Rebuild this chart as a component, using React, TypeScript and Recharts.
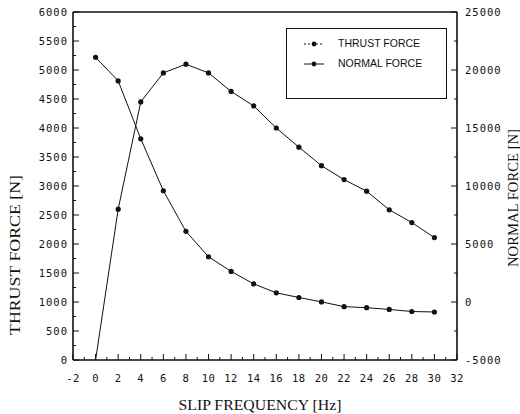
import React from "react";
import { LineChart, Line, XAxis, YAxis, ReferenceLine, Legend } from "recharts";

const freq = [0, 2, 4, 6, 8, 10, 12, 14, 16, 18, 20, 22, 24, 26, 28, 30];
const thrust = [0, 2600, 4450, 4950, 5100, 4950, 4630, 4380, 4000, 3670, 3350, 3110, 2910, 2590, 2370, 2110];
const normal = [21100, 19060, 14070, 9590, 6090, 3900, 2640, 1560, 790, 390, 10, -400, -490, -640, -820, -860];

const xTicks = Array.from({ length: 35 }, (_, i) => i - 2);
const leftTicks = Array.from({ length: 25 }, (_, i) => i * 250);
const rightTicks = Array.from({ length: 13 }, (_, i) => -5000 + i * 2500);

const data = freq.map((f, i) => ({ f, thrust: thrust[i], normal: normal[i] }));

const TICK_FONT = "'DejaVu Sans Mono', monospace";
const INK = "#111";

const XTick = (props: any) => {
  const { x, y, payload } = props;
  const v = payload.value;
  const major = v % 2 === 0;
  return (
    <g>
      <line x1={x} y1={y} x2={x} y2={y - (major ? 6 : 3)} stroke={INK} strokeWidth={1} />
      {major && (
        <text x={x} y={y + 22} textAnchor="middle" fontFamily={TICK_FONT} fontSize={10.5} letterSpacing={0.5} fill={INK}>
          {v}
        </text>
      )}
    </g>
  );
};

const LeftTick = (props: any) => {
  const { x, y, payload } = props;
  const v = payload.value;
  const major = v % 500 === 0;
  return (
    <g>
      <line x1={x} y1={y} x2={x + (major ? 6 : 3)} y2={y} stroke={INK} strokeWidth={1} />
      {major && (
        <text x={x - 5} y={y + 4} textAnchor="end" fontFamily={TICK_FONT} fontSize={10.5} letterSpacing={1} fill={INK}>
          {v}
        </text>
      )}
    </g>
  );
};

const RightTick = (props: any) => {
  const { x, y, payload } = props;
  const v = payload.value;
  const major = v % 5000 === 0;
  return (
    <g>
      <line x1={x} y1={y} x2={x - (major ? 6 : 3)} y2={y} stroke={INK} strokeWidth={1} />
      {major && (
        <text x={x + 8} y={y + 4} textAnchor="start" fontFamily={TICK_FONT} fontSize={10.5} letterSpacing={1} fill={INK}>
          {v}
        </text>
      )}
    </g>
  );
};

const Dot = (props: any) => {
  const { cx, cy, value, index } = props;
  if (value === 0 && index === 0) return <g key={`d${index}`} />;
  return <circle key={`d${index}`} cx={cx} cy={cy} r={2.6} fill={INK} stroke="none" />;
};

const TITLE_FONT = "'Liberation Serif', 'Times New Roman', serif";

const renderLegend = () => (
  <div
    style={{
      position: "relative",
      width: 161,
      height: 71,
      boxSizing: "border-box",
      border: `1px solid ${INK}`,
      background: "#fff",
      fontFamily: "'Liberation Sans', Arial, sans-serif",
      fontSize: 10.5,
      color: INK,
    }}
  >
    <svg width={40} height={50} style={{ position: "absolute", left: 14, top: 0 }}>
      <line x1={3} y1={15} x2={23} y2={15} stroke={INK} strokeWidth={1} strokeDasharray="2 2" />
      <circle cx={13} cy={15} r={2.4} fill={INK} />
      <line x1={3} y1={35} x2={23} y2={35} stroke={INK} strokeWidth={1} />
      <circle cx={13} cy={35} r={2.4} fill={INK} />
    </svg>
    <div style={{ position: "absolute", left: 51, top: 8, whiteSpace: "nowrap" }}>THRUST FORCE</div>
    <div style={{ position: "absolute", left: 51, top: 28, whiteSpace: "nowrap" }}>NORMAL FORCE</div>
  </div>
);

export default function App() {
  return (
    <div style={{ position: "absolute", left: 0, top: 0, width: 520, height: 414, background: "#fff" }}>
      <LineChart width={520} height={414} data={data} margin={{ top: 12, right: 0, bottom: 0, left: 0 }}>
        <XAxis
          dataKey="f"
          type="number"
          domain={[-2, 32]}
          ticks={xTicks}
          interval={0}
          tickLine={false}
          tickSize={0}
          tickMargin={0}
          tick={<XTick />}
          height={54}
          axisLine={{ stroke: INK, strokeWidth: 1.6 }}
          label={{
            content: () => (
              <text x={260} y={410} textAnchor="middle" fontFamily={TITLE_FONT} fontSize={15} fill={INK} textLength={163} lengthAdjust="spacingAndGlyphs">
                SLIP FREQUENCY [Hz]
              </text>
            ),
          }}
        />
        <YAxis
          yAxisId="left"
          orientation="left"
          type="number"
          domain={[0, 6000]}
          ticks={leftTicks}
          interval={0}
          tickLine={false}
          tickSize={0}
          tickMargin={0}
          tick={<LeftTick />}
          width={73}
          axisLine={{ stroke: INK, strokeWidth: 1.6 }}
          label={{
            content: () => (
              <text x={20} y={255} transform="rotate(-90 20 255)" textAnchor="middle" fontFamily={TITLE_FONT} fontSize={15} fill={INK} textLength={160} lengthAdjust="spacingAndGlyphs">
                THRUST FORCE [N]
              </text>
            ),
          }}
        />
        <YAxis
          yAxisId="right"
          orientation="right"
          type="number"
          domain={[-5000, 25000]}
          ticks={rightTicks}
          interval={0}
          tickLine={false}
          tickSize={0}
          tickMargin={0}
          tick={<RightTick />}
          width={63}
          axisLine={{ stroke: INK, strokeWidth: 1.6 }}
          label={{
            content: () => (
              <text x={518} y={198} transform="rotate(-90 518 198)" textAnchor="middle" fontFamily={TITLE_FONT} fontSize={15} fill={INK} textLength={138} lengthAdjust="spacingAndGlyphs">
                NORMAL FORCE [N]
              </text>
            ),
          }}
        />
        <ReferenceLine yAxisId="left" y={6000} stroke={INK} strokeWidth={1.4} />
        <Line
          yAxisId="left"
          type="linear"
          dataKey="thrust"
          stroke={INK}
          strokeWidth={1}
          dot={<Dot />}
          activeDot={false}
          isAnimationActive={false}
        />
        <Line
          yAxisId="right"
          type="linear"
          dataKey="normal"
          stroke={INK}
          strokeWidth={1}
          dot={<Dot />}
          activeDot={false}
          isAnimationActive={false}
        />
        <Legend
          layout="vertical"
          align="center"
          verticalAlign="middle"
          content={renderLegend}
          wrapperStyle={{ position: "absolute", left: 286, top: 28, width: 161, height: 71 }}
        />
      </LineChart>
    </div>
  );
}
